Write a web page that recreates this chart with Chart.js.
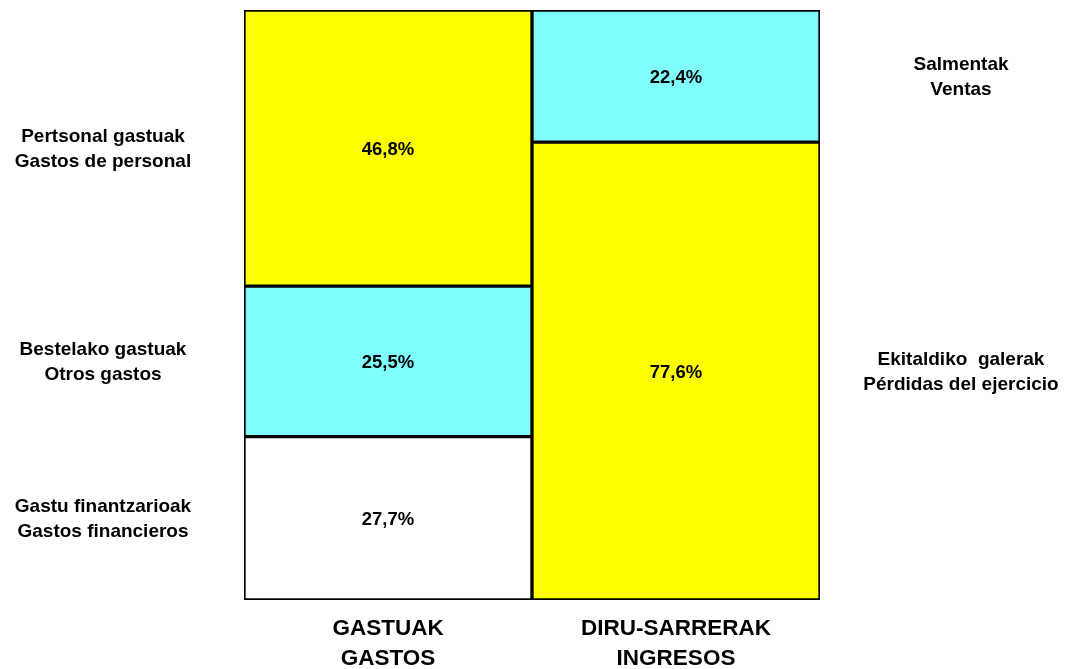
<!DOCTYPE html>
<html>
<head>
<meta charset="utf-8">
<script src="https://cdn.jsdelivr.net/npm/chart.js@4.4.1/dist/chart.umd.min.js"></script>
<style>
  html, body { margin: 0; padding: 0; background: #ffffff; }
  #wrap { width: 1072px; height: 669px; position: relative; }
</style>
</head>
<body>
<div id="wrap"><canvas id="c" width="1072" height="669"></canvas></div>
<script>
// ---- Data ----
const categories = [['GASTUAK', 'GASTOS'], ['DIRU-SARRERAK', 'INGRESOS']];
const gastuFinantzarioak = [27.7, null];
const bestelakoGastuak   = [25.5, null];
const pertsonalGastuak   = [46.8, null];
const ekitaldikoGalerak  = [null, 77.6];
const salmentak          = [null, 22.4];

const labelGastuFinantzarioak = ['Gastu finantzarioak', 'Gastos financieros'];
const labelBestelakoGastuak   = ['Bestelako gastuak', 'Otros gastos'];
const labelPertsonalGastuak   = ['Pertsonal gastuak', 'Gastos de personal'];
const labelEkitaldikoGalerak  = ['Ekitaldiko  galerak', 'Pérdidas del ejercicio'];
const labelSalmentak          = ['Salmentak', 'Ventas'];

const FONT = '"Liberation Sans", Arial, sans-serif';

function ds(data, color, side, sideLabel) {
  return {
    data: data,
    backgroundColor: color,
    borderColor: '#000000',
    borderWidth: 2,
    borderSkipped: false,
    side: side,
    sideLabel: sideLabel
  };
}

const datasets = [
  ds(gastuFinantzarioak, '#ffffff', 'left', labelGastuFinantzarioak),
  ds(bestelakoGastuak,   '#80ffff', 'left', labelBestelakoGastuak),
  ds(pertsonalGastuak,   '#ffff00', 'left', labelPertsonalGastuak),
  ds(ekitaldikoGalerak,  '#ffff00', 'right', labelEkitaldikoGalerak),
  ds(salmentak,          '#80ffff', 'right', labelSalmentak)
];

function fmt(v) { return v.toFixed(1).replace('.', ',') + '%'; }

const labelsPlugin = {
  id: 'segLabels',
  afterDatasetsDraw(chart) {
    const ctx = chart.ctx;
    const area = chart.chartArea;
    ctx.save();
    ctx.fillStyle = '#000000';
    ctx.textAlign = 'center';
    ctx.textBaseline = 'middle';
    chart.data.datasets.forEach((d, di) => {
      const meta = chart.getDatasetMeta(di);
      meta.data.forEach((bar, i) => {
        const v = d.data[i];
        if (v === null || v === undefined) return;
        const mid = (bar.y + bar.base) / 2;
        // value label
        ctx.font = 'bold 18.5px ' + FONT;
        ctx.fillText(fmt(v), bar.x, mid + 2);
        // side label
        const sx = d.side === 'left' ? area.left - 141 : area.right + 141;
        ctx.font = 'bold 19px ' + FONT;
        const lh = 25.5;
        const n = d.sideLabel.length;
        d.sideLabel.forEach((t, k) => {
          ctx.fillText(t, sx, mid + (k - (n - 1) / 2) * lh + 1);
        });
      });
    });
    ctx.restore();
  }
};

new Chart(document.getElementById('c'), {
  type: 'bar',
  data: { labels: categories, datasets: datasets },
  options: {
    responsive: false,
    animation: false,
    devicePixelRatio: 1,
    layout: { padding: { left: 244, right: 252, top: 10, bottom: 0 } },
    plugins: {
      legend: { display: false },
      tooltip: { enabled: false }
    },
    datasets: { bar: { barPercentage: 1.0, categoryPercentage: 1.0 } },
    scales: {
      x: {
        stacked: true,
        grid: { display: false, drawTicks: false },
        border: { display: false },
        ticks: {
          color: '#000000',
          padding: 14,
          font: { family: FONT, size: 22.5, weight: 'bold', lineHeight: 1.33 }
        },
        afterFit(scale) { scale.height = 69; }
      },
      y: {
        stacked: true,
        min: 0,
        max: 100,
        display: false
      }
    }
  },
  plugins: [labelsPlugin]
});
</script>
</body>
</html>
